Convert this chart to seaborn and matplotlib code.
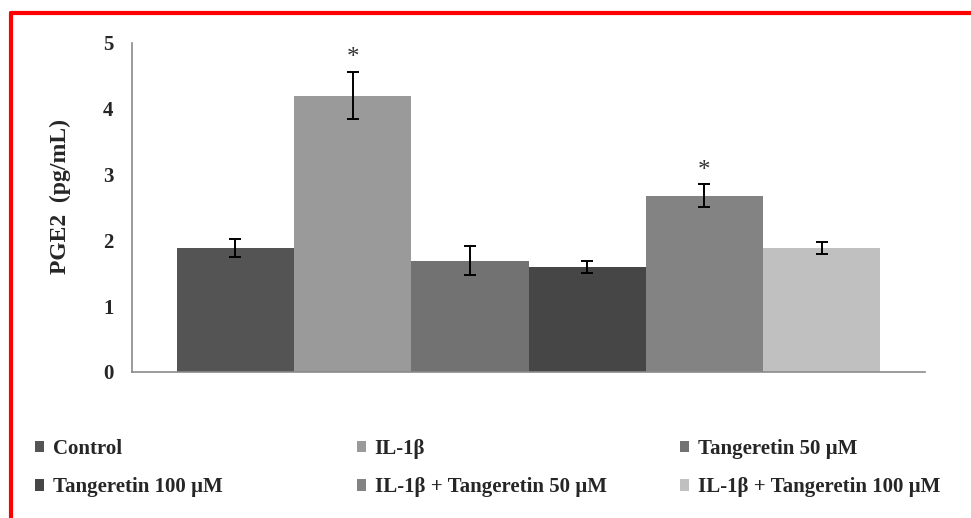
import matplotlib
matplotlib.use("Agg")
import matplotlib.pyplot as plt
from matplotlib.lines import Line2D
import seaborn as sns
import pandas as pd

# data
groups = ['Control', 'IL-1β', 'Tangeretin 50 µM', 'Tangeretin 100 µM',
          'IL-1β + Tangeretin 50 µM', 'IL-1β + Tangeretin 100 µM']
means = [1.88, 4.20, 1.69, 1.60, 2.68, 1.89]
errors = [0.14, 0.36, 0.22, 0.09, 0.17, 0.09]
stars = ['', '*', '', '', '*', '']
colors = ['#545454', '#9a9a9a', '#727272', '#464646', '#838383', '#c0c0c0']

df = pd.DataFrame({'cat': [''] * len(groups), 'group': groups, 'value': means})

sns.set_style('white')
plt.rcParams['font.family'] = ['Liberation Serif', 'DejaVu Serif']
plt.rcParams['font.weight'] = 'bold'

fig = plt.figure(figsize=(9.71, 5.18), dpi=100)
ax = fig.add_axes([0.136, 0.2819, 0.8166, 0.6351])

sns.barplot(data=df, x='cat', y='value', hue='group', hue_order=groups,
            palette=colors, width=0.887, gap=0, errorbar=None,
            saturation=1, linewidth=0, ax=ax)
ax.set_xlim(-0.5, 0.5)

# error bars and significance marks on top of each bar
for cont, m, e, s in zip(ax.containers, means, errors, stars):
    p = cont.patches[0]
    xc = p.get_x() + p.get_width() / 2
    ax.errorbar(xc, m, yerr=e, fmt='none', ecolor='black',
                elinewidth=1.4, capsize=4.3, capthick=1.4)
    if s:
        ax.annotate(s, (xc, m + e), xytext=(0, 2), textcoords='offset points',
                    ha='center', va='bottom', fontsize=18, color='#333333',
                    fontweight='normal')

ax.set_ylim(0, 5)
ax.set_yticks([0, 1, 2, 3, 4, 5])
ax.set_xticks([])
ax.set_xlabel('')
ax.set_ylabel('PGE2  (pg/mL)', fontsize=17, fontweight='bold')
ax.yaxis.set_label_coords(-0.077, 0.533)
ax.tick_params(axis='y', length=0, pad=13.5, labelsize=15)
for side in ['top', 'right']:
    ax.spines[side].set_visible(False)
for side in ['left', 'bottom']:
    ax.spines[side].set_color('#8a8a8a')
    ax.spines[side].set_linewidth(1.2)

handles, labels = ax.get_legend_handles_labels()
ax.get_legend().remove()

# three legend columns, evenly spaced across the figure
col_x = [35 / 971, 357 / 971, 680 / 971]
for i, x0 in enumerate(col_x):
    leg = fig.legend([handles[i], handles[i + 3]], [labels[i], labels[i + 3]],
                     loc='center left', bbox_to_anchor=(x0, 0.0965),
                     frameon=False, borderpad=0, borderaxespad=0,
                     handlelength=0.45, handleheight=0.45, handletextpad=0.4,
                     labelspacing=0.9, prop={'size': 15, 'weight': 'bold'})

# red frame of the screenshot
fig.add_artist(Line2D([10.5 / 971, 1], [0.974, 0.974], color='red', lw=3))
fig.add_artist(Line2D([10.5 / 971, 10.5 / 971], [0, 0.974], color='red', lw=3))

fig.savefig('out.png', dpi=100, facecolor='white')
